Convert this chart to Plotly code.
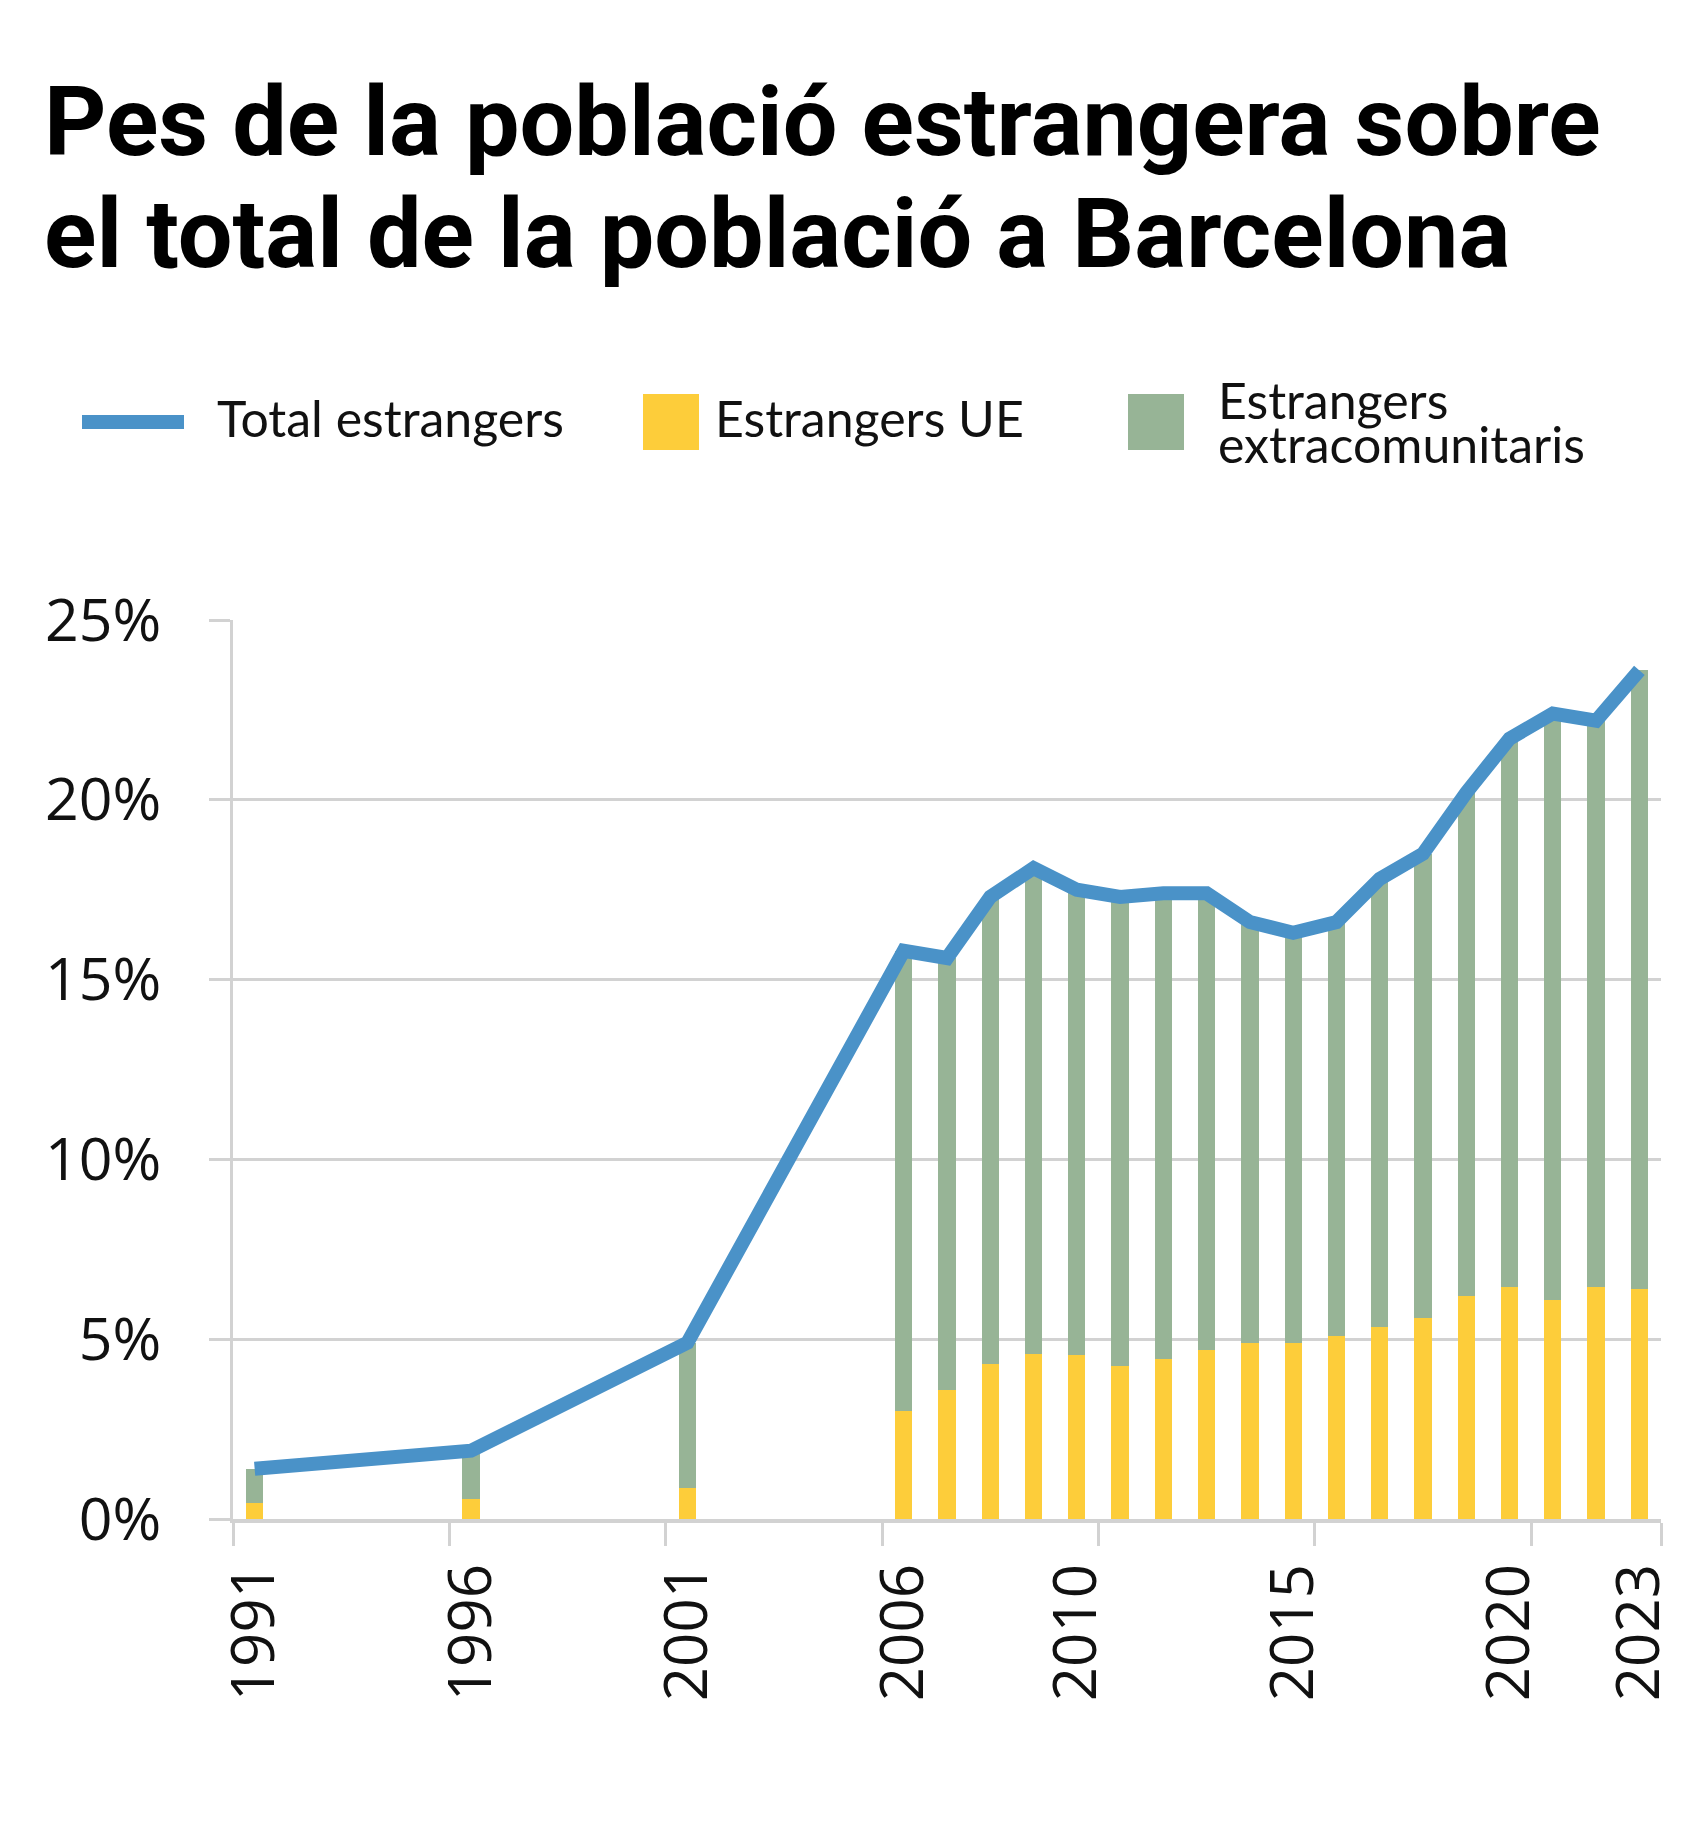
import plotly.graph_objects as go

# data (percent of Barcelona population)
years = [1991, 1996, 2001, 2006, 2007, 2008, 2009, 2010, 2011, 2012, 2013,
         2014, 2015, 2016, 2017, 2018, 2019, 2020, 2021, 2022, 2023]
total_estrangers = [1.4, 1.9, 4.9, 15.8, 15.6, 17.3, 18.1, 17.5, 17.3, 17.4, 17.4,
                    16.6, 16.3, 16.6, 17.8, 18.5, 20.2, 21.7, 22.4, 22.2, 23.6]
estrangers_ue = [0.45, 0.55, 0.85, 3.0, 3.6, 4.3, 4.6, 4.55, 4.25, 4.45, 4.7,
                 4.9, 4.9, 5.1, 5.35, 5.6, 6.2, 6.45, 6.1, 6.45, 6.4]
estrangers_extra = [0.95, 1.35, 4.05, 12.8, 12.0, 13.0, 13.5, 12.95, 13.05, 12.95, 12.7,
                    11.7, 11.4, 11.5, 12.45, 12.9, 14.0, 15.25, 16.3, 15.75, 17.2]

year_labels = [1991, 1996, 2001, 2006, 2010, 2015, 2020, 2023]
y_ticks = [0, 5, 10, 15, 20, 25]

BLUE = "#4A92C8"
YELLOW = "#FDCD3A"
GREEN = "#97B496"
GRID = "#D2D2D2"

W, H = 1703, 1824
L, R, T, B = 225, 50, 612, 313
plot_w = W - L - R
plot_h = H - T - B


def px(x, y):
    # pixel position in the page -> paper coordinates
    return (x - L) / plot_w, (H - B - y) / plot_h


fig = go.Figure()
fig.add_trace(go.Bar(x=years, y=estrangers_ue, name="Estrangers UE",
                     marker={"color": YELLOW, "line": {"width": 0}}, width=0.4))
fig.add_trace(go.Bar(x=years, y=estrangers_extra, name="Estrangers extracomunitaris",
                     marker={"color": GREEN, "line": {"width": 0}}, width=0.4))
fig.add_trace(go.Scatter(x=years, y=total_estrangers, mode="lines", name="Total estrangers",
                         line={"color": BLUE, "width": 14}, cliponaxis=False))

# title, two lines set as annotations to keep the tight line spacing
title_font = {"family": "Roboto", "size": 97, "color": "#000000", "weight": 700}
for text, y in [("Pes de la població estrangera sobre", 114),
                ("el total de la població a Barcelona", 226)]:
    ax, ay = px(34, y)
    fig.add_annotation(text=text, x=ax, y=ay, xref="paper", yref="paper",
                       xanchor="left", yanchor="middle", showarrow=False, font=title_font)

# hand-made legend (big swatches like the original)
legend_font = {"family": "Lato", "size": 50, "color": "#111111"}
x0, y0 = px(74, 414)
x1, _ = px(176, 414)
fig.add_shape(type="line", xref="paper", yref="paper", x0=x0, x1=x1, y0=y0, y1=y0,
              line={"color": BLUE, "width": 14})
for left, color in [(635, YELLOW), (1120, GREEN)]:
    ax0, ay0 = px(left, 442)
    ax1, ay1 = px(left + 56, 386)
    fig.add_shape(type="rect", xref="paper", yref="paper", x0=ax0, x1=ax1, y0=ay0, y1=ay1,
                  fillcolor=color, line={"width": 0})
for text, x, y in [("Total estrangers", 207, 410), ("Estrangers UE", 705, 410),
                   ("Estrangers", 1208, 392), ("extracomunitaris", 1208, 436)]:
    ax, ay = px(x, y)
    fig.add_annotation(text=text, x=ax, y=ay, xref="paper", yref="paper",
                       xanchor="left", yanchor="middle", showarrow=False, font=legend_font)

fig.update_layout(
    width=W, height=H,
    margin={"l": L, "r": R, "t": T, "b": B},
    barmode="stack",
    showlegend=False,
    plot_bgcolor="white",
    paper_bgcolor="white",
    xaxis={
        "range": [1990.5, 2023.5],
        "tickmode": "array",
        "tickvals": year_labels,
        "ticktext": [str(y) for y in year_labels],
        "tickangle": -90,
        "ticks": "",
        "ticklabelstandoff": 17,
        "tickfont": {"family": "Open Sans", "size": 60, "color": "#111111"},
        "showgrid": False,
        "zeroline": False,
        "showline": True,
        "linecolor": GRID,
        "linewidth": 4,
        "minor": {
            "tickmode": "array",
            "tickvals": [1990.5, 1995.5, 2000.5, 2005.5, 2010.5, 2015.5, 2020.5, 2023.5],
            "ticks": "outside",
            "ticklen": 23,
            "tickwidth": 3,
            "tickcolor": GRID,
            "showgrid": False,
        },
    },
    yaxis={
        "range": [0, 25],
        "tickmode": "array",
        "tickvals": y_ticks,
        "ticktext": [f"{v}%" for v in y_ticks],
        "ticks": "outside",
        "ticklen": 21,
        "tickwidth": 3,
        "tickcolor": GRID,
        "ticklabelstandoff": 36,
        "tickfont": {"family": "Open Sans", "size": 59, "color": "#111111"},
        "showgrid": True,
        "gridcolor": GRID,
        "gridwidth": 3,
        "zeroline": False,
        "showline": True,
        "linecolor": GRID,
        "linewidth": 3,
    },
)

fig.write_html("out.html")
